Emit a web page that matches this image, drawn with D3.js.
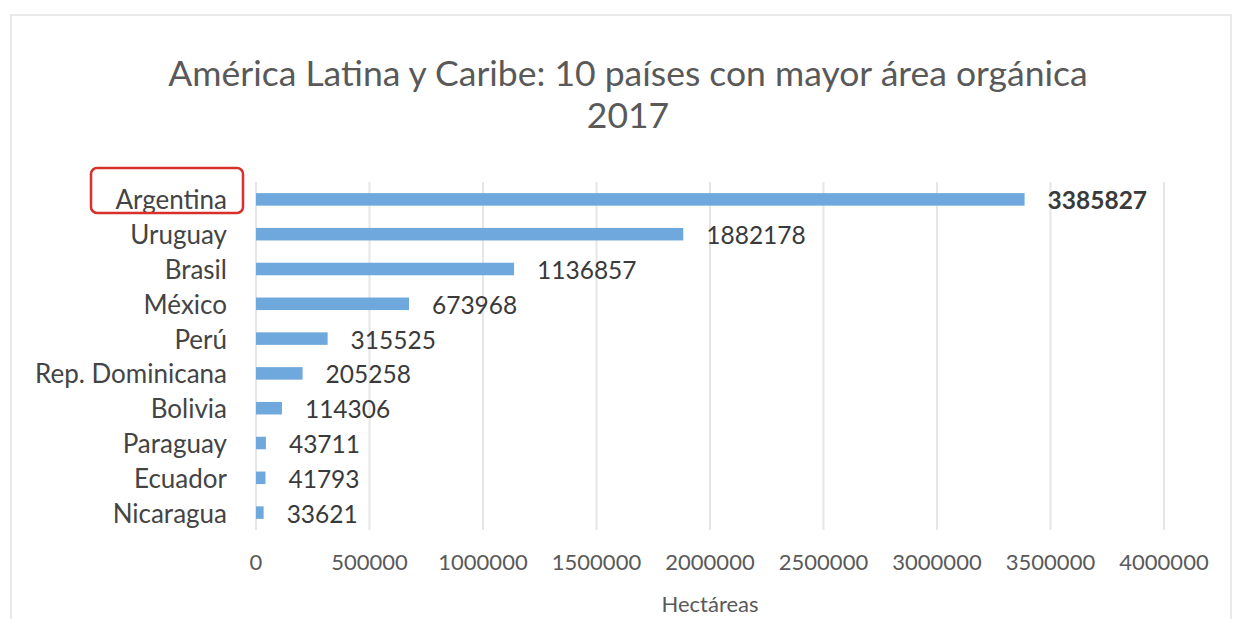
<!DOCTYPE html>
<html>
<head>
<meta charset="utf-8">
<script src="https://cdn.jsdelivr.net/npm/d3@7"></script>
<style>
  body { margin: 0; background: #fff; }
  svg { font-family: Lato, "Open Sans", sans-serif; }
</style>
</head>
<body>
<svg width="1237" height="619"></svg>
<script>
const paises = ["Argentina", "Uruguay", "Brasil", "México", "Perú", "Rep. Dominicana", "Bolivia", "Paraguay", "Ecuador", "Nicaragua"];
const hectareas = [3385827, 1882178, 1136857, 673968, 315525, 205258, 114306, 43711, 41793, 33621];
const ticks = [0, 500000, 1000000, 1500000, 2000000, 2500000, 3000000, 3500000, 4000000];

const svg = d3.select("svg");

// chart frame
svg.append("rect")
    .attr("x", 11).attr("y", 15)
    .attr("width", 1220).attr("height", 640)
    .attr("fill", "none")
    .attr("stroke", "#e3e3e3")
    .attr("stroke-width", 1.5);

const x = d3.scaleLinear().domain([0, 4000000]).range([256, 1164]);
const y = d3.scaleBand().domain(paises).range([182, 530]).paddingInner(0.64).paddingOuter(0.32);

// gridlines
svg.append("g")
    .selectAll("line")
    .data(ticks)
    .join("line")
    .attr("x1", d => x(d)).attr("x2", d => x(d))
    .attr("y1", 182).attr("y2", 530)
    .attr("stroke", "#e6e6e6")
    .attr("stroke-width", 2);

// bars
svg.append("g")
    .selectAll("rect")
    .data(paises)
    .join("rect")
    .attr("x", x(0))
    .attr("y", d => y(d))
    .attr("width", (d, i) => x(hectareas[i]) - x(0))
    .attr("height", y.bandwidth())
    .attr("fill", "#6fa8dc");

// value labels
svg.append("g")
    .selectAll("text")
    .data(paises)
    .join("text")
    .attr("x", (d, i) => x(hectareas[i]) + 23)
    .attr("y", d => y(d) + y.bandwidth() / 2 + 10)
    .attr("font-size", 24.5)
    .attr("font-weight", (d, i) => i === 0 ? "bold" : "normal")
    .attr("fill", "#3a3a3a")
    .text((d, i) => hectareas[i]);

// category axis labels
svg.append("g")
    .selectAll("text")
    .data(paises)
    .join("text")
    .attr("x", 227)
    .attr("y", d => y(d) + y.bandwidth() / 2 + 10)
    .attr("text-anchor", "end")
    .attr("font-size", 26)
    .attr("fill", "#444")
    .text(d => d);

// x tick labels
svg.append("g")
    .selectAll("text")
    .data(ticks)
    .join("text")
    .attr("x", d => x(d))
    .attr("y", 570)
    .attr("text-anchor", "middle")
    .attr("font-size", 22)
    .attr("fill", "#595959")
    .text(d => d);

svg.append("text")
    .attr("x", x(2000000))
    .attr("y", 612)
    .attr("text-anchor", "middle")
    .attr("font-size", 22)
    .attr("fill", "#595959")
    .text("Hectáreas");

// title
const title = svg.append("text")
    .attr("text-anchor", "middle")
    .attr("font-size", 35.5)
    .attr("fill", "#595959");
title.append("tspan").attr("x", 628).attr("y", 86).text("América Latina y Caribe: 10 países con mayor área orgánica");
title.append("tspan").attr("x", 628).attr("y", 128).text("2017");

// red highlight box around Argentina
svg.append("rect")
    .attr("x", 91).attr("y", 168)
    .attr("width", 152).attr("height", 45)
    .attr("rx", 6)
    .attr("fill", "none")
    .attr("stroke", "#d8312c")
    .attr("stroke-width", 2.5);
</script>
</body>
</html>
